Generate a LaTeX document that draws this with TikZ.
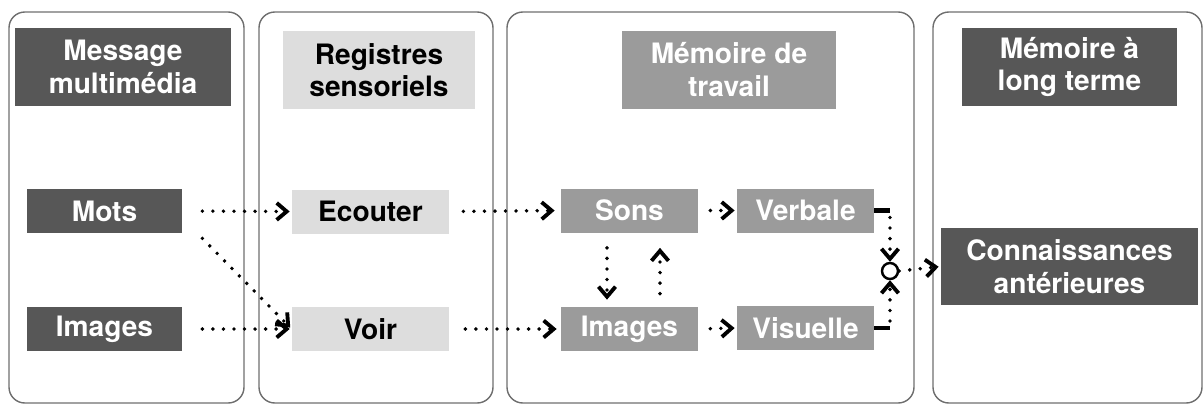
\documentclass[tikz,border=0pt]{standalone}
\usepackage{fontspec}
\setmainfont{TeX Gyre Heros}
\usepackage{xcolor}
\usepackage{tikz}
\usetikzlibrary{arrows.meta}
\definecolor{darkbox}{RGB}{87,87,87}
\definecolor{midbox}{RGB}{155,155,155}
\definecolor{lightbox}{RGB}{221,221,221}
\definecolor{framegray}{RGB}{110,110,110}

\begin{document}
\begin{tikzpicture}[
  panel/.style={draw=framegray, line width=0.8pt, rounded corners=9pt},
  box/.style={font=\fontsize{16}{18.5}\selectfont\bfseries, align=center, inner sep=0pt},
  dark/.style={box, fill=darkbox, text=white},
  mid/.style={box, fill=midbox, text=white},
  light/.style={box, fill=lightbox, text=black},
  title/.style={minimum height=1.56cm},
  row/.style={minimum height=0.88cm},
  flow/.style={line width=2.2pt, dash pattern=on 0pt off 6pt, line cap=round,
    -{Straight Barb[length=2mm,width=3.4mm,line width=2.2pt]}}
]
\useasboundingbox (0,0) rectangle (24.06,-8.1);

% panels
\draw[panel] (0.18,-0.24) rectangle (4.88,-8.06);
\draw[panel] (5.18,-0.24) rectangle (9.86,-8.06);
\draw[panel] (10.14,-0.24) rectangle (18.28,-8.06);
\draw[panel] (18.66,-0.24) rectangle (24.04,-8.06);

% titles
\node[dark, title, minimum width=4.32cm] (msg) at (2.46,-1.34) {Message\\multimédia};
\node[light, title, minimum width=3.84cm] (reg) at (7.58,-1.40) {Registres\\sensoriels};
\node[mid, title, minimum width=4.28cm] (mt) at (14.58,-1.39) {Mémoire de\\travail};
\node[dark, title, minimum width=4.30cm] (mlt) at (21.39,-1.34) {Mémoire à\\long terme};

% boxes
\node[dark, row, minimum width=3.1cm] (mots) at (2.09,-4.22) {Mots};
\node[dark, row, minimum width=3.1cm] (imgl) at (2.09,-6.58) {Images};
\node[light, row, minimum width=3.14cm] (ecouter) at (7.41,-4.23) {Ecouter};
\node[light, row, minimum width=3.14cm] (voir) at (7.41,-6.58) {Voir};
\node[mid, row, minimum width=2.74cm] (sons) at (12.59,-4.21) {Sons};
\node[mid, row, minimum width=2.74cm] (imgm) at (12.59,-6.58) {Images};
\node[mid, row, minimum width=2.74cm] (verbale) at (16.11,-4.21) {Verbale};
\node[mid, row, minimum width=2.74cm] (visuelle) at (16.11,-6.56) {Visuelle};
\node[dark, minimum width=5.14cm, minimum height=1.54cm] (conn) at (21.39,-5.33) {Connaissances\\antérieures};
\node[circle, draw, line width=1.4pt, minimum size=0.32cm, inner sep=0pt] (sum) at (17.8,-5.42) {};

% arrows
\draw[flow, shorten <=0.4cm, shorten >=0.04cm] (mots.east) -- (ecouter.west);
\draw[flow, shorten >=0.04cm] ([shift={(0.4,-0.1)}]mots.south east) -- (voir.west);
\draw[flow, shorten <=0.4cm, shorten >=0.04cm] (imgl.east) -- (voir.west);
\draw[flow, shorten <=0.28cm, shorten >=0.12cm] (ecouter.east) -- (sons.west);
\draw[flow, shorten <=0.32cm, shorten >=0.08cm] (voir.east) -- (imgm.west);
\draw[flow, shorten <=0.24cm, shorten >=0.04cm] (sons.east) -- (verbale.west);
\draw[flow, shorten <=0.24cm, shorten >=0.04cm] (imgm.east) -- (visuelle.west);
\draw[flow, shorten <=0.3cm, shorten >=0.14cm] ([xshift=-0.45cm]sons.south) -- ([xshift=-0.45cm]imgm.north);
\draw[flow, shorten <=0.26cm, shorten >=0.3cm] ([xshift=0.61cm]imgm.north) -- ([xshift=0.61cm]sons.south);
\draw[line width=2.6pt] (verbale.east) -- (verbale.east -| sum);
\draw[line width=2.6pt] (visuelle.east) -- (visuelle.east -| sum);
\draw[flow, shorten <=0.14cm] (verbale.east -| sum) -- (sum.north);
\draw[flow, shorten <=0.14cm] (visuelle.east -| sum) -- (sum.south);
\draw[flow, shorten >=0.04cm] (sum.east) -- (conn.west);

\end{tikzpicture}
\end{document}
